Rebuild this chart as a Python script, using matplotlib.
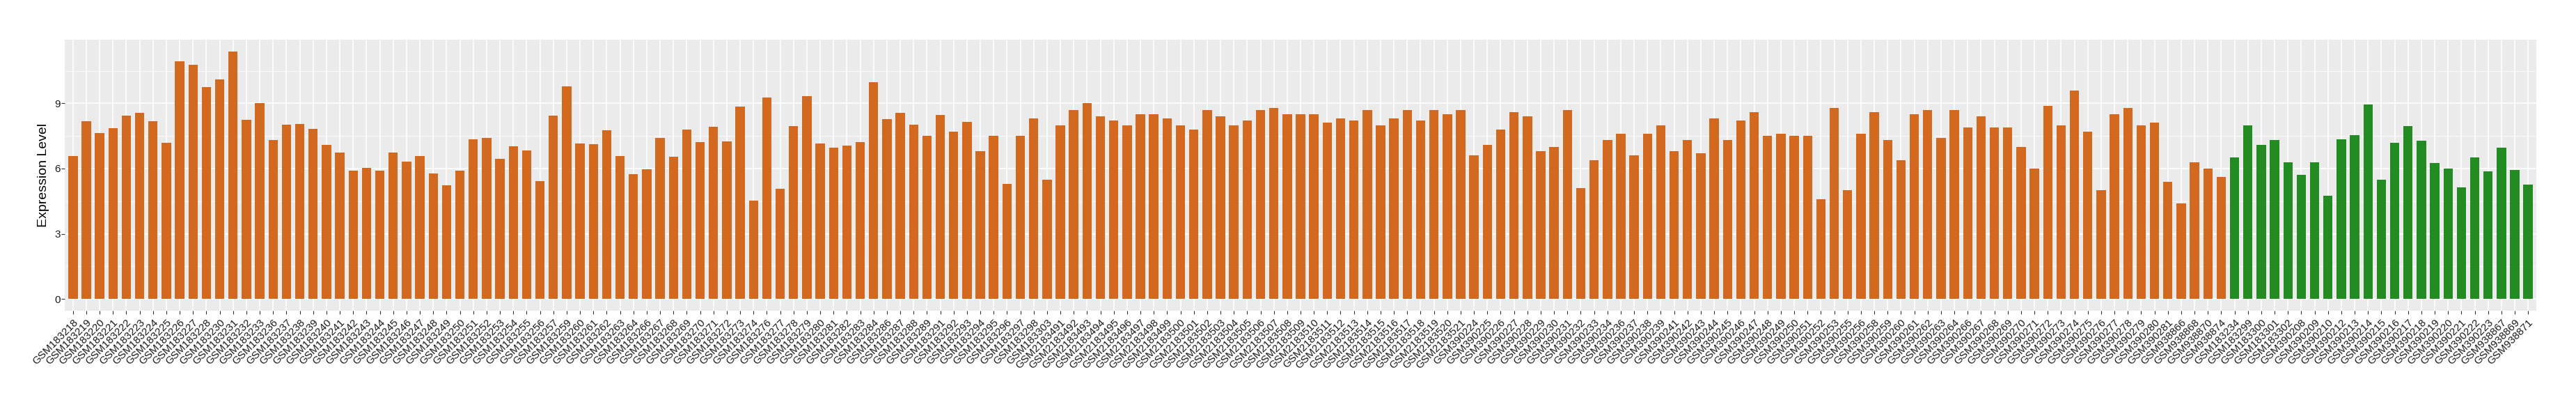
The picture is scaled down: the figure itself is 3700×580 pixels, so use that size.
import matplotlib
matplotlib.use("Agg")
import matplotlib.pyplot as plt
from matplotlib.ticker import FixedLocator

# ---------------- data ----------------
samples_a = [
    "GSM183218", "GSM183219", "GSM183220", "GSM183221", "GSM183222", "GSM183223", "GSM183224",
    "GSM183225", "GSM183226", "GSM183227", "GSM183228", "GSM183230", "GSM183231", "GSM183232",
    "GSM183233", "GSM183236", "GSM183237", "GSM183238", "GSM183239", "GSM183240", "GSM183241",
    "GSM183242", "GSM183243", "GSM183244", "GSM183245", "GSM183246", "GSM183247", "GSM183248",
    "GSM183249", "GSM183250", "GSM183251", "GSM183252", "GSM183253", "GSM183254", "GSM183255",
    "GSM183256", "GSM183257", "GSM183259", "GSM183260", "GSM183261", "GSM183262", "GSM183263",
    "GSM183264", "GSM183266", "GSM183267", "GSM183268", "GSM183269", "GSM183270", "GSM183271",
    "GSM183272", "GSM183273", "GSM183274", "GSM183276", "GSM183277", "GSM183278", "GSM183279",
    "GSM183280", "GSM183281", "GSM183282", "GSM183283", "GSM183284", "GSM183286", "GSM183287",
    "GSM183288", "GSM183289", "GSM183291", "GSM183292", "GSM183293", "GSM183294", "GSM183295",
    "GSM183296", "GSM183297", "GSM183298", "GSM183303",
    "GSM2183491", "GSM2183492", "GSM2183493", "GSM2183494", "GSM2183495", "GSM2183496",
    "GSM2183497", "GSM2183498", "GSM2183499", "GSM2183500", "GSM2183501", "GSM2183502",
    "GSM2183503", "GSM2183504", "GSM2183505", "GSM2183506", "GSM2183507", "GSM2183508",
    "GSM2183509", "GSM2183510", "GSM2183511", "GSM2183512", "GSM2183513", "GSM2183514",
    "GSM2183515", "GSM2183516", "GSM2183517", "GSM2183518", "GSM2183519", "GSM2183520",
    "GSM2183521",
    "GSM390224", "GSM390225", "GSM390226", "GSM390227", "GSM390228", "GSM390229", "GSM390230",
    "GSM390231", "GSM390232", "GSM390233", "GSM390234", "GSM390236", "GSM390237", "GSM390238",
    "GSM390239", "GSM390241", "GSM390242", "GSM390243", "GSM390244", "GSM390245", "GSM390246",
    "GSM390247", "GSM390248", "GSM390249", "GSM390250", "GSM390251", "GSM390252", "GSM390253",
    "GSM390255", "GSM390256", "GSM390258", "GSM390259", "GSM390260", "GSM390261", "GSM390262",
    "GSM390263", "GSM390264", "GSM390266", "GSM390267", "GSM390268", "GSM390269", "GSM390270",
    "GSM390271", "GSM390272", "GSM390273", "GSM390274", "GSM390275", "GSM390276", "GSM390277",
    "GSM390278", "GSM390279", "GSM390280", "GSM390281",
    "GSM938866", "GSM938868", "GSM938870", "GSM938874",
]
values_a = [
    6.57, 8.18, 7.64, 7.86, 8.42, 8.56, 8.18, 7.19, 10.93, 10.78, 9.75, 10.10, 11.38, 8.24, 9.01,
    7.31, 8.01, 8.05, 7.82, 7.08, 6.73, 5.89, 6.02, 5.89, 6.73, 6.31, 6.57, 5.76, 5.22, 5.89,
    7.34, 7.40, 6.44, 7.02, 6.82, 5.41, 8.43, 9.78, 7.15, 7.11, 7.76, 6.57, 5.73, 5.96, 7.40,
    6.54, 7.79, 7.21, 7.92, 7.24, 8.85, 4.54, 9.27, 5.06, 7.95, 9.33, 7.15, 6.95, 7.05, 7.21,
    9.98, 8.27, 8.56, 8.01, 7.50, 8.46, 7.69, 8.14,
    6.8, 7.5, 5.3, 7.5, 8.3, 5.5, 8.0, 8.7, 9.0, 8.4, 8.2, 8.0, 8.5, 8.5, 8.3, 8.0, 7.8, 8.7,
    8.4, 8.0, 8.2, 8.7, 8.8, 8.5, 8.5, 8.5, 8.1, 8.3, 8.2, 8.7, 8.0, 8.3, 8.7, 8.2, 8.7, 8.5,
    8.7, 6.6, 7.1, 7.8, 8.6, 8.4, 6.8, 7.0, 8.7, 5.1, 6.4, 7.3, 7.6, 6.6, 7.6, 8.0, 6.8, 7.3,
    6.7, 8.3, 7.3, 8.2, 8.6, 7.5, 7.6, 7.5, 7.5, 4.6, 8.8, 5.0, 7.6, 8.6, 7.3, 6.4, 8.5, 8.7,
    7.4, 8.7, 7.9, 8.4, 7.9, 7.9, 7.0, 6.0, 8.9, 8.0, 9.6, 7.7, 5.0, 8.5, 8.8, 8.0, 8.1, 5.4,
    4.4, 6.3, 6.0, 5.6,
]
samples_b = [
    "GSM183234", "GSM183299", "GSM183300", "GSM183301", "GSM183302",
    "GSM390208", "GSM390209", "GSM390210", "GSM390212", "GSM390213", "GSM390214", "GSM390215",
    "GSM390216", "GSM390217", "GSM390218", "GSM390219", "GSM390220", "GSM390221", "GSM390222",
    "GSM390223", "GSM938867", "GSM938869", "GSM938871",
]
values_b = [
    6.5, 8.0, 7.1, 7.3, 6.3,
    5.71, 6.29, 4.75, 7.34, 7.54, 8.94, 5.49, 7.19, 7.96, 7.28, 6.25, 6.00, 5.14, 6.51, 5.87,
    6.96, 5.93, 5.27,
]
y_ticks = [0, 3, 6, 9]
y_label = "Expression Level"
color_a = "#D2691E"
color_b = "#228B22"

# ---------------- plotting ----------------
plt.rcParams["font.family"] = ["Liberation Sans", "DejaVu Sans"]

fig = plt.figure(figsize=(37, 5.8), dpi=100)
ax = fig.add_axes([93.3 / 3700, 1 - 446.3 / 580, (3642.7 - 93.3) / 3700, (446.3 - 56.7) / 580])

labels = samples_a + samples_b
vals = values_a + values_b
cols = [color_a] * len(values_a) + [color_b] * len(values_b)
x = list(range(len(labels)))

ax.set_facecolor("#EBEBEB")
for s in ax.spines.values():
    s.set_visible(False)

ax.bar(x, vals, width=0.7, color=cols, zorder=3)

ax.set_xlim(-0.6, len(labels) - 1 + 0.6)
ax.set_ylim(-0.55, 11.94)

ax.set_xticks(x)
ax.set_xticklabels(labels, rotation=45, ha="right", va="top", rotation_mode="anchor",
                   fontsize=11, color="#1A1A1A")
ax.set_yticks(y_ticks)
ax.set_yticklabels([str(t) for t in y_ticks], fontsize=11, color="#1A1A1A")
ax.yaxis.set_minor_locator(FixedLocator([1.5, 4.5, 7.5, 10.5]))
ax.tick_params(axis="both", which="major", length=3.8, width=0.8, color="#333333")
ax.tick_params(axis="x", which="major", pad=3)
ax.tick_params(axis="y", which="major", pad=1)
ax.tick_params(axis="y", which="minor", length=0)

ax.grid(True, which="major", axis="both", color="white", linewidth=1.2, zorder=0)
ax.grid(True, which="minor", axis="y", color="white", linewidth=0.6, zorder=0)
ax.set_axisbelow(True)

ax.set_ylabel(y_label, fontsize=14, color="black", labelpad=5)

fig.savefig("out.png", dpi=100)
